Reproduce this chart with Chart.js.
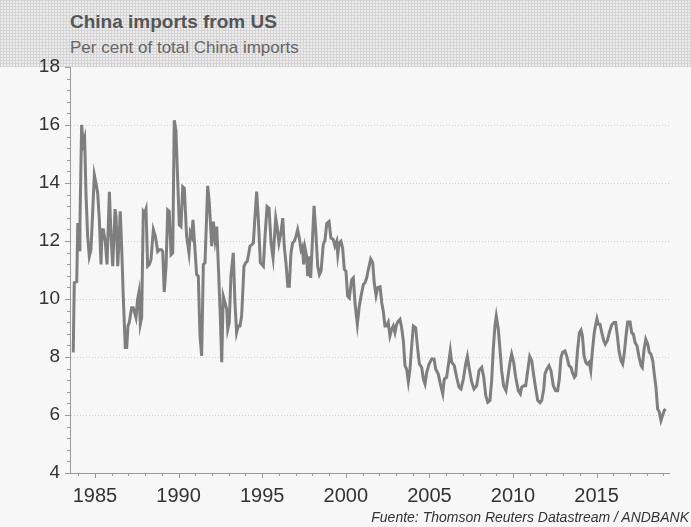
<!DOCTYPE html>
<html>
<head>
<meta charset="utf-8">
<script src="https://cdn.jsdelivr.net/npm/chart.js@4.4.0/dist/chart.umd.min.js"></script>
<style>
  html, body { margin: 0; padding: 0; }
  body { width: 691px; height: 527px; background: #f7f7f7; position: relative; overflow: hidden;
         font-family: "Liberation Sans", Arial, sans-serif; }
  #header { position: absolute; left: 0; top: 0; width: 691px; height: 67px; background-color: #ececec;
            background-image: linear-gradient(90deg, #d4d4d4 1px, transparent 1px),
                              linear-gradient(#d4d4d4 1px, transparent 1px);
            background-size: 3px 3px; }
  #title { position: absolute; left: 70px; top: 11px; font-size: 19px; font-weight: bold; color: #555; }
  #subtitle { position: absolute; left: 70px; top: 38px; font-size: 17px; color: #666; }
  #source { position: absolute; right: 2px; top: 509px; font-size: 14px; font-style: italic; color: #333; }
  #wrap { position: absolute; left: 0; top: 0; width: 691px; height: 527px; }
</style>
</head>
<body>
<div id="header"></div>
<div id="title">China imports from US</div>
<div id="subtitle">Per cent of total China imports</div>
<div id="wrap"><canvas id="chart" width="691" height="527"></canvas></div>
<div id="source">Fuente: Thomson Reuters Datastream / ANDBANK</div>
<script>
// decimal years and % share of China imports coming from the US
const years = [
  1983.70, 1983.76, 1983.91, 1983.97, 1984.06, 1984.10, 1984.20, 1984.30, 1984.38, 1984.46,
  1984.56, 1984.66, 1984.76, 1984.96, 1985.06, 1985.16, 1985.26, 1985.36, 1985.42, 1985.50,
  1985.62, 1985.72, 1985.86, 1985.96, 1986.06, 1986.20, 1986.26, 1986.36, 1986.45, 1986.51,
  1986.60, 1986.69, 1986.81, 1986.90, 1986.97, 1987.05, 1987.19, 1987.29, 1987.45, 1987.55,
  1987.63, 1987.71, 1987.79, 1987.89, 1987.97, 1988.05, 1988.15, 1988.25, 1988.35, 1988.49,
  1988.61, 1988.75, 1988.85, 1988.97, 1989.05, 1989.14, 1989.25, 1989.35, 1989.44, 1989.55,
  1989.65, 1989.74, 1989.84, 1989.96, 1990.04, 1990.14, 1990.25, 1990.34, 1990.48, 1990.62,
  1990.70, 1990.78, 1990.86, 1990.98, 1991.08, 1991.18, 1991.28, 1991.38, 1991.48, 1991.58,
  1991.74, 1991.84, 1991.98, 1992.08, 1992.18, 1992.28, 1992.37, 1992.48, 1992.58, 1992.67,
  1992.78, 1992.88, 1992.94, 1993.03, 1993.13, 1993.27, 1993.37, 1993.47, 1993.57, 1993.67,
  1993.77, 1993.91, 1994.01, 1994.11, 1994.27, 1994.37, 1994.47, 1994.57, 1994.67, 1994.77,
  1994.89, 1995.07, 1995.17, 1995.29, 1995.41, 1995.53, 1995.65, 1995.81, 1995.89, 1996.00,
  1996.12, 1996.23, 1996.32, 1996.42, 1996.53, 1996.62, 1996.72, 1996.82, 1996.92, 1997.02,
  1997.12, 1997.22, 1997.32, 1997.40, 1997.48, 1997.56, 1997.66, 1997.72, 1997.80, 1997.90,
  1998.10, 1998.20, 1998.32, 1998.42, 1998.52, 1998.65, 1998.76, 1998.86, 1999.00, 1999.11,
  1999.25, 1999.35, 1999.46, 1999.52, 1999.61, 1999.71, 1999.81, 1999.91, 2000.01, 2000.11,
  2000.21, 2000.35, 2000.45, 2000.55, 2000.69, 2000.81, 2000.91, 2001.05, 2001.15, 2001.25,
  2001.35, 2001.49, 2001.61, 2001.70, 2001.81, 2001.91, 2002.05, 2002.15, 2002.24, 2002.34,
  2002.45, 2002.54, 2002.64, 2002.75, 2002.84, 2002.94, 2003.04, 2003.14, 2003.24, 2003.34,
  2003.44, 2003.54, 2003.64, 2003.74, 2003.84, 2003.94, 2004.04, 2004.18, 2004.28, 2004.40,
  2004.54, 2004.64, 2004.74, 2004.84, 2004.98, 2005.14, 2005.28, 2005.38, 2005.53, 2005.68,
  2005.80, 2005.89, 2006.03, 2006.17, 2006.25, 2006.33, 2006.49, 2006.63, 2006.77, 2006.89,
  2007.03, 2007.17, 2007.27, 2007.37, 2007.53, 2007.67, 2007.83, 2007.97, 2008.13, 2008.25,
  2008.37, 2008.49, 2008.62, 2008.73, 2008.82, 2008.92, 2009.00, 2009.12, 2009.22, 2009.32,
  2009.44, 2009.58, 2009.68, 2009.82, 2009.92, 2010.04, 2010.16, 2010.32, 2010.44, 2010.52,
  2010.64, 2010.76, 2010.88, 2011.00, 2011.12, 2011.24, 2011.36, 2011.48, 2011.62, 2011.72,
  2011.84, 2011.91, 2012.02, 2012.15, 2012.27, 2012.41, 2012.55, 2012.67, 2012.77, 2012.87,
  2012.97, 2013.11, 2013.21, 2013.35, 2013.47, 2013.55, 2013.67, 2013.75, 2013.85, 2013.97,
  2014.07, 2014.15, 2014.25, 2014.35, 2014.44, 2014.55, 2014.65, 2014.74, 2014.86, 2014.95,
  2015.02, 2015.10, 2015.20, 2015.31, 2015.43, 2015.52, 2015.64, 2015.76, 2015.90, 2016.04,
  2016.14, 2016.24, 2016.34, 2016.46, 2016.56, 2016.66, 2016.76, 2016.86, 2017.00, 2017.10,
  2017.20, 2017.30, 2017.42, 2017.54, 2017.66, 2017.73, 2017.84, 2017.94, 2018.06, 2018.15,
  2018.25, 2018.36, 2018.45, 2018.55, 2018.65, 2018.75, 2018.85, 2018.95, 2019.05, 2019.13
];
const usShare = [
  8.16, 10.56, 10.60, 12.62, 11.70, 12.60, 16.00, 15.36, 15.54, 13.66,
  12.16, 11.47, 11.70, 14.28, 13.99, 13.65, 12.73, 11.19, 12.39, 12.39,
  11.94, 11.19, 13.70, 12.16, 11.13, 13.10, 12.85, 11.13, 12.16, 13.02,
  11.70, 10.10, 8.33, 8.33, 9.07, 9.19, 9.70, 9.70, 9.36, 9.99,
  10.24, 9.13, 9.36, 13.02, 12.96, 13.10, 11.13, 11.19, 11.36, 12.39,
  12.16, 11.64, 11.70, 11.70, 11.64, 10.24, 11.13, 13.07, 13.02, 11.53,
  11.59, 16.16, 15.82, 13.87, 12.56, 12.50, 13.87, 13.82, 12.16, 11.59,
  12.28, 12.16, 12.73, 11.70, 10.84, 10.79, 8.73, 8.04, 11.19, 11.25,
  13.90, 13.30, 11.82, 12.67, 12.05, 12.50, 11.25, 9.64, 7.82, 10.10,
  9.87, 9.64, 8.96, 9.19, 10.79, 11.59, 9.87, 8.84, 9.07, 9.07,
  9.41, 11.13, 11.25, 11.30, 11.82, 11.87, 11.93, 12.85, 13.70, 12.73,
  11.25, 11.13, 12.16, 13.19, 13.13, 11.93, 11.42, 12.79, 12.50, 11.93,
  12.28, 12.79, 11.82, 11.25, 10.44, 10.44, 11.59, 11.93, 11.99, 12.16,
  12.39, 12.10, 11.70, 11.80, 11.19, 11.76, 11.47, 10.79, 11.47, 10.73,
  13.21, 12.39, 11.13, 10.84, 10.96, 11.87, 12.05, 12.60, 12.67, 12.10,
  12.05, 11.82, 11.99, 11.53, 11.93, 11.99, 11.76, 11.02, 10.96, 10.10,
  10.04, 10.67, 10.73, 9.87, 9.13, 9.76, 10.10, 10.50, 10.56, 10.73,
  11.02, 11.38, 11.25, 10.56, 10.12, 10.39, 10.42, 9.87, 9.59, 9.07,
  9.07, 9.19, 8.73, 8.96, 9.07, 8.84, 9.13, 9.24, 9.30, 9.01,
  8.56, 7.70, 7.58, 7.15, 7.58, 8.38, 9.07, 9.01, 8.38, 7.76,
  7.64, 7.24, 7.07, 7.47, 7.76, 7.93, 7.93, 7.58, 7.41, 7.01,
  6.73, 7.24, 7.30, 7.87, 8.21, 7.82, 7.70, 7.30, 6.96, 6.90,
  7.24, 7.76, 8.02, 7.64, 7.13, 6.90, 7.01, 7.53, 7.64, 7.30,
  6.67, 6.44, 6.50, 7.24, 8.27, 9.07, 9.41, 8.96, 8.27, 7.53,
  7.01, 6.84, 7.24, 7.82, 8.10, 7.82, 7.30, 6.84, 6.73, 6.96,
  7.01, 7.01, 7.53, 8.02, 7.87, 7.36, 6.90, 6.50, 6.42, 6.50,
  6.90, 7.41, 7.58, 7.70, 7.53, 7.01, 6.84, 6.84, 7.24, 7.99,
  8.16, 8.21, 8.04, 7.70, 7.64, 7.47, 7.30, 7.36, 8.16, 8.84,
  8.93, 8.73, 8.04, 7.82, 7.76, 7.82, 7.53, 8.16, 8.84, 9.13,
  9.32, 9.13, 9.13, 8.84, 8.56, 8.44, 8.56, 8.84, 9.10, 9.19,
  9.19, 8.73, 8.21, 7.87, 7.76, 8.16, 8.73, 9.21, 9.21, 8.84,
  8.79, 8.50, 8.38, 7.99, 7.70, 7.64, 8.27, 8.61, 8.44, 8.16,
  8.10, 7.87, 7.41, 6.96, 6.21, 6.10, 5.81, 5.99, 6.16, 6.21
];
const yearTicks = [1985, 1990, 1995, 2000, 2005, 2010, 2015];
const shareTicks = [4, 6, 8, 10, 12, 14, 16, 18];

const points = years.map((t, i) => ({ x: t, y: usShare[i] }));

// little ticks on both axes (major ones a bit longer)
const axisTicks = {
  id: "axisTicks",
  afterDraw(chart) {
    const { ctx, chartArea } = chart;
    const x = chart.scales.x, y = chart.scales.y;
    ctx.save();
    ctx.strokeStyle = "#999";
    ctx.lineWidth = 1;
    ctx.beginPath();
    for (let i = 0; i <= 35; i++) {
      const py = Math.round(y.getPixelForValue(4 + i * 0.4)) + 0.5;
      const len = i % 5 === 0 ? 5 : 3;
      ctx.moveTo(chartArea.left - len, py);
      ctx.lineTo(chartArea.left, py);
    }
    for (let yr = 1984; yr <= 2019; yr++) {
      const px = Math.round(x.getPixelForValue(yr)) + 0.5;
      const len = yr % 5 === 0 ? 5 : 3;
      ctx.moveTo(px, chartArea.bottom);
      ctx.lineTo(px, chartArea.bottom + len);
    }
    ctx.stroke();
    ctx.restore();
  }
};

new Chart(document.getElementById("chart"), {
  type: "line",
  data: {
    datasets: [{
      data: points,
      borderColor: "#7f7f7f",
      borderWidth: 3,
      pointRadius: 0,
      tension: 0,
      fill: false
    }]
  },
  options: {
    responsive: false,
    animation: false,
    events: [],
    layout: { padding: { top: 67, right: 22, left: 0, bottom: 0 } },
    plugins: { legend: { display: false }, tooltip: { enabled: false } },
    scales: {
      x: {
        type: "linear",
        min: 1983.505,
        max: 2019.33,
        afterBuildTicks: (s) => { s.ticks = yearTicks.map(v => ({ value: v })); },
        afterFit: (s) => { s.height = 54; },
        grid: { display: false, drawTicks: false },
        border: { color: "#999", width: 1 },
        ticks: {
          padding: 11,
          color: "#333",
          font: { family: "Liberation Sans", size: 20 },
          callback: (v) => String(v),
          maxRotation: 0
        }
      },
      y: {
        min: 4,
        max: 18,
        afterBuildTicks: (s) => { s.ticks = shareTicks.map(v => ({ value: v })); },
        afterFit: (s) => { s.width = 70; },
        grid: {
          drawTicks: false,
          color: (c) => (c.tick && (c.tick.value === 4 || c.tick.value === 18)) ? "rgba(0,0,0,0)" : "#cfcfcf"
        },
        border: { color: "#999", width: 1, dash: [1, 2] },
        ticks: {
          padding: 10,
          color: "#333",
          font: { family: "Liberation Sans", size: 19 }
        }
      }
    }
  },
  plugins: [axisTicks]
});
</script>
</body>
</html>
